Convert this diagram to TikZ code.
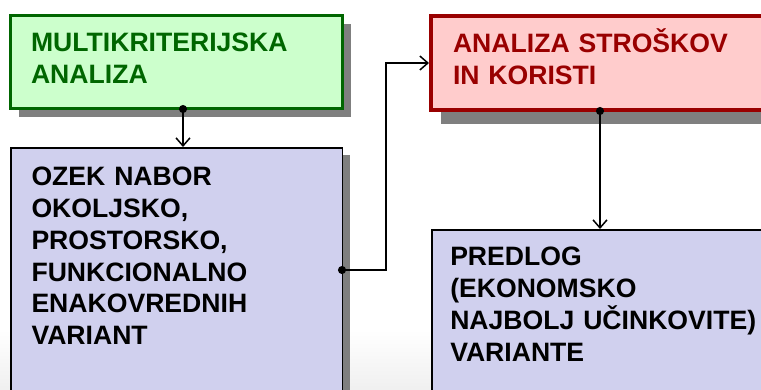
\documentclass[tikz,border=0pt]{standalone}
\usepackage{fontspec}
\setmainfont{Liberation Sans}
\usetikzlibrary{positioning,shadows,arrows.meta}
\definecolor{mkgreen}{HTML}{006600}
\definecolor{mkfill}{HTML}{CCFFCC}
\definecolor{askred}{HTML}{990000}
\definecolor{askfill}{HTML}{FFCCCC}
\definecolor{varfill}{RGB}{208,208,238}
\definecolor{shadowgray}{HTML}{7F7F7F}
\begin{document}
\begin{tikzpicture}[x=1pt, y=-1pt,
    box/.style = {draw, rectangle, inner sep=0pt},
    shadowed/.style 2 args = {drop shadow={shadow xshift=#1, shadow yshift=-#2, fill=shadowgray,
        opacity=1, fill opacity=1}},
    txt/.style = {inner sep=0pt, outer sep=0pt, text width=320pt, align=left,
        font=\fontsize{26.6}{31.8}\selectfont\bfseries, execute at begin node=\strut},
    link/.style = {line width=1.5pt, {Circle[length=8pt]}-{Straight Barb[length=8pt,width=14pt]}, shorten <=-5pt}]
    \useasboundingbox (0,0) rectangle (761,389);
    \clip (0,0) rectangle (761,389);
    \shade[top color=white, bottom color=gray!12] (0,330) rectangle (761,389);
    % boxes
    \node[box, line width=3pt, draw=mkgreen, fill=mkfill, shadowed={8pt}{8pt},
        minimum width=332pt, minimum height=93pt] (mk) at (176.5,62) {};
    \node[box, line width=4pt, draw=askred, fill=askfill, shadowed={10pt}{14pt},
        minimum width=338pt, minimum height=94pt] (ask) at (600,63) {};
    \node[box, line width=1.5pt, fill=varfill, shadowed={8pt}{7pt},
        minimum width=331.5pt, minimum height=244.5pt] (ozek) at (176.5,270) {};
    \node[box, line width=1.5pt, fill=varfill, shadowed={8pt}{7pt},
        minimum width=336pt, minimum height=170.25pt] (pred) at (600,314.875) {};
    % texts
    \node[txt, text=mkgreen, below right=15.1pt and 22pt of mk.north west] (mktxt)
        {MULTIKRITERIJSKA\\ANALIZA};
    \node[txt, text=askred, below right=15.1pt and 24pt of ask.north west] (asktxt)
        {ANALIZA STROŠKOV\\IN KORISTI};
    \node[txt, below right=16.5pt and 21.5pt of ozek.north west] (ozektxt)
        {OZEK NABOR\\OKOLJSKO,\\PROSTORSKO,\\FUNKCIONALNO\\ENAKOVREDNIH\\VARIANT};
    \node[txt, below right=14.5pt and 19pt of pred.north west] (predtxt)
        {PREDLOG\\(EKONOMSKO\\NAJBOLJ UČINKOVITE)\\VARIANTE};
    % connectors
    \draw[link] ([xshift=6.5pt]mk.south) -- ([xshift=6.5pt]ozek.north);
    \draw[link] (ozek.east) -- ++(43,0) |- (ask.west);
    \draw[link] (ask.south) -- (pred.north);
\end{tikzpicture}
\end{document}
